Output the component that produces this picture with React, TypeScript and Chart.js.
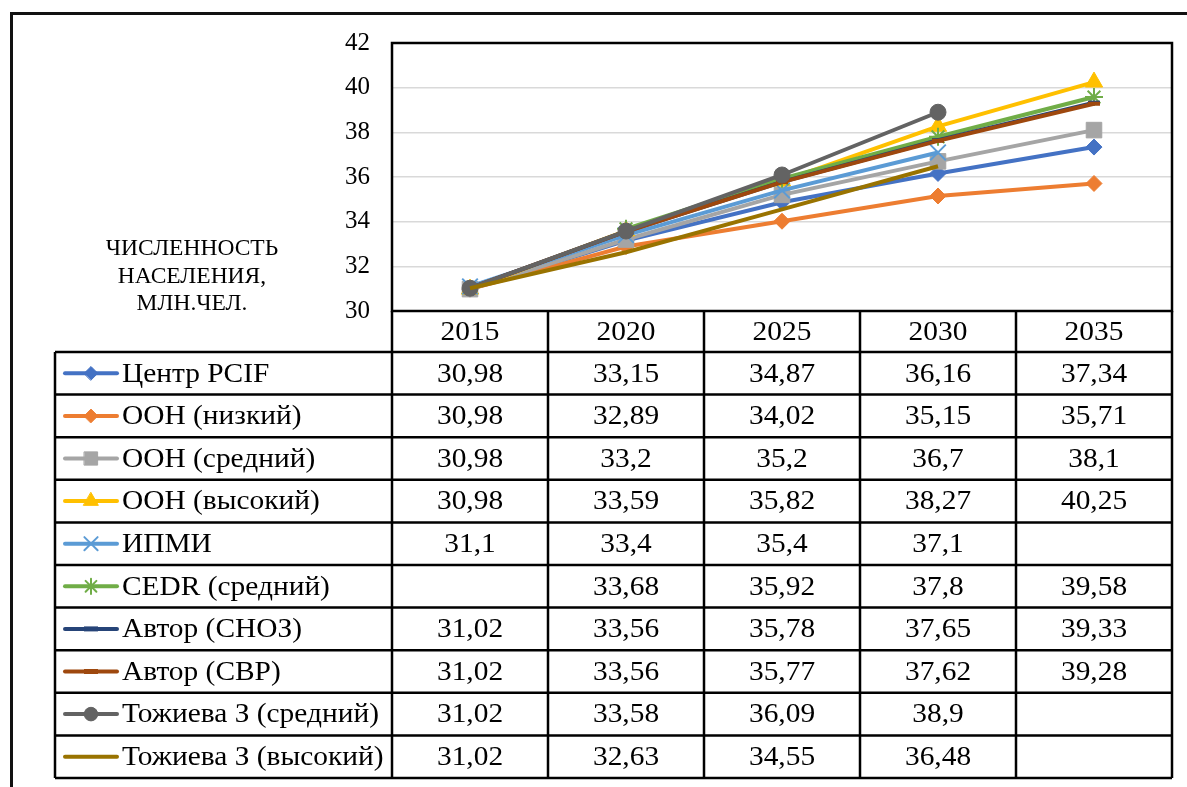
import React, { useEffect, useRef } from 'react';
import { Chart, registerables } from 'chart.js';
import { drawPoint } from 'chart.js/helpers';

Chart.register(...registerables);

const years = ['2015', '2020', '2025', '2030', '2035'];
const yTickMin = 30;
const yTickMax = 42;
const yTickStep = 2;
const axisTitleLines = ['ЧИСЛЕННОСТЬ', 'НАСЕЛЕНИЯ,', 'МЛН.ЧЕЛ.'];

const seriesNames = [
  'Центр PCIF',
  'ООН (низкий)',
  'ООН (средний)',
  'ООН (высокий)',
  'ИПМИ',
  'CEDR (средний)',
  'Автор (СНОЗ)',
  'Автор (СВР)',
  'Тожиева З (средний)',
  'Тожиева З (высокий)',
];

const centrPCIF = [30.98, 33.15, 34.87, 36.16, 37.34];
const oonLow = [30.98, 32.89, 34.02, 35.15, 35.71];
const oonMid = [30.98, 33.2, 35.2, 36.7, 38.1];
const oonHigh = [30.98, 33.59, 35.82, 38.27, 40.25];
const ipmi = [31.1, 33.4, 35.4, 37.1, null];
const cedrMid = [null, 33.68, 35.92, 37.8, 39.58];
const avtorSNOZ = [31.02, 33.56, 35.78, 37.65, 39.33];
const avtorSVR = [31.02, 33.56, 35.77, 37.62, 39.28];
const tozhievaMid = [31.02, 33.58, 36.09, 38.9, null];
const tozhievaHigh = [31.02, 32.63, 34.55, 36.48, null];

const seriesValues = [
  centrPCIF, oonLow, oonMid, oonHigh, ipmi,
  cedrMid, avtorSNOZ, avtorSVR, tozhievaMid, tozhievaHigh,
];

// styles (kept apart from data)
const seriesStyles = [
  { color: '#4472C4', point: 'rectRot', r: 8, bw: 1 },
  { color: '#ED7D31', point: 'rectRot', r: 8, bw: 1 },
  { color: '#A5A5A5', point: 'rect', r: 11, bw: 1 },
  { color: '#FFC000', point: 'triangle', r: 10, bw: 1 },
  { color: '#5B9BD5', point: 'crossRot', r: 11, bw: 2 },
  { color: '#70AD47', point: 'star', r: 9, bw: 2 },
  { color: '#264478', point: 'line', r: 6, bw: 4 },
  { color: '#9E480E', point: 'line', r: 6, bw: 4 },
  { color: '#636363', point: 'circle', r: 8, bw: 1 },
  { color: '#997300', point: 'line', r: 0, bw: 0 },
];

const FONT = '"Liberation Serif"';
const HEADER_H = 41;
const ROW_H = 42.6;
const LEG_LEFT = 55;
const STRETCH = 1.05;

const fmt = (v: number | null) => (v === null ? '' : String(v).replace('.', ','));

const stretchedText = (ctx: CanvasRenderingContext2D, t: string, x: number, y: number) => {
  ctx.save();
  ctx.translate(x, y);
  ctx.scale(STRETCH, 1);
  ctx.fillText(t, 0, 0);
  ctx.restore();
};

const tablePlugin = {
  id: 'dataTable',
  afterDraw(chart: any) {
    const { ctx, chartArea: a, scales } = chart;
    const x = scales.x;
    ctx.save();

    // outer frame
    ctx.strokeStyle = '#111';
    ctx.lineWidth = 3;
    ctx.strokeRect(11.5, 13.5, 1400, 1000);

    // plot border
    ctx.strokeStyle = '#000';
    ctx.lineWidth = 2.5;
    ctx.strokeRect(a.left, a.top, a.right - a.left, a.bottom - a.top);

    const n = seriesNames.length;
    const colW = (a.right - a.left) / years.length;
    const top = a.bottom;
    const hb = top + HEADER_H;
    const bottom = hb + ROW_H * n;

    ctx.beginPath();
    for (let i = 0; i <= n; i++) {
      const y = hb + i * ROW_H;
      ctx.moveTo(LEG_LEFT, y);
      ctx.lineTo(a.right, y);
    }
    ctx.moveTo(LEG_LEFT, hb);
    ctx.lineTo(LEG_LEFT, bottom);
    for (let j = 0; j <= years.length; j++) {
      const xx = a.left + j * colW;
      ctx.moveTo(xx, top);
      ctx.lineTo(xx, bottom);
    }
    ctx.stroke();

    ctx.fillStyle = '#000';
    ctx.font = `28px ${FONT}`;
    ctx.textAlign = 'center';
    ctx.textBaseline = 'middle';
    years.forEach((yr, j) => {
      stretchedText(ctx, yr, x.getPixelForValue(j), top + HEADER_H / 2 + 1);
    });

    for (let i = 0; i < n; i++) {
      const cy = hb + i * ROW_H + ROW_H / 2;
      const st = seriesStyles[i];
      // legend key
      ctx.strokeStyle = st.color;
      ctx.lineWidth = 4;
      ctx.lineCap = 'round';
      ctx.beginPath();
      ctx.moveTo(65, cy);
      ctx.lineTo(117, cy);
      ctx.stroke();
      if (st.point !== 'line' && st.r > 0) {
        ctx.fillStyle = st.color;
        ctx.strokeStyle = st.color;
        ctx.lineWidth = st.bw;
        drawPoint(ctx, { pointStyle: st.point, radius: st.r * 0.85, borderWidth: st.bw, rotation: 0 }, 91, cy);
      } else if (st.point === 'line' && st.r > 0) {
        ctx.strokeStyle = st.color;
        ctx.lineWidth = 5;
        ctx.lineCap = 'butt';
        ctx.beginPath();
        ctx.moveTo(84, cy);
        ctx.lineTo(98, cy);
        ctx.stroke();
      }
      ctx.fillStyle = '#000';
      ctx.font = `28px ${FONT}`;
      ctx.textAlign = 'left';
      stretchedText(ctx, seriesNames[i], 122, cy + 1);
      ctx.textAlign = 'center';
      seriesValues[i].forEach((v, j) => {
        stretchedText(ctx, fmt(v), x.getPixelForValue(j), cy + 1);
      });
    }

    // axis title
    ctx.font = `23.5px ${FONT}`;
    ctx.textAlign = 'center';
    axisTitleLines.forEach((t, k) => {
      ctx.fillText(t, 192, 249 + k * 27.5);
    });

    ctx.restore();
  },
};

export default function App() {
  const ref = useRef<HTMLCanvasElement>(null);
  useEffect(() => {
    if (!ref.current) return;
    const chart = new Chart(ref.current, {
      type: 'line',
      data: {
        labels: years,
        datasets: seriesNames.map((name, i) => ({
          label: name,
          data: seriesValues[i],
          borderColor: seriesStyles[i].color,
          backgroundColor: seriesStyles[i].color,
          borderWidth: 4,
          pointStyle: seriesStyles[i].point as any,
          pointRadius: seriesStyles[i].r,
          pointBorderWidth: seriesStyles[i].bw,
          pointBackgroundColor: seriesStyles[i].color,
          pointBorderColor: seriesStyles[i].color,
          tension: 0,
          spanGaps: false,
          order: -i,
          clip: false as any,
        })),
      },
      options: {
        animation: false,
        responsive: false,
        devicePixelRatio: 1,
        layout: { padding: { left: 0, top: 43, right: 15, bottom: 787 - 311 } },
        plugins: { legend: { display: false }, tooltip: { enabled: false } },
        scales: {
          x: { type: 'category', offset: true, display: false },
          y: {
            min: yTickMin,
            max: yTickMax,
            ticks: {
              stepSize: yTickStep,
              color: '#000',
              font: { family: FONT, size: 25 },
              padding: 22,
            },
            grid: { color: '#d9d9d9', lineWidth: 1.5, drawTicks: false },
            border: { display: false },
            afterFit: (s: any) => { s.width = 392; },
          },
        },
      },
      plugins: [tablePlugin],
    });
    return () => chart.destroy();
  }, []);
  return (
    <div style={{ position: 'fixed', left: 0, top: 0, width: 1187, height: 787, background: '#fff' }}>
      <canvas ref={ref} width={1187} height={787} />
    </div>
  );
}
